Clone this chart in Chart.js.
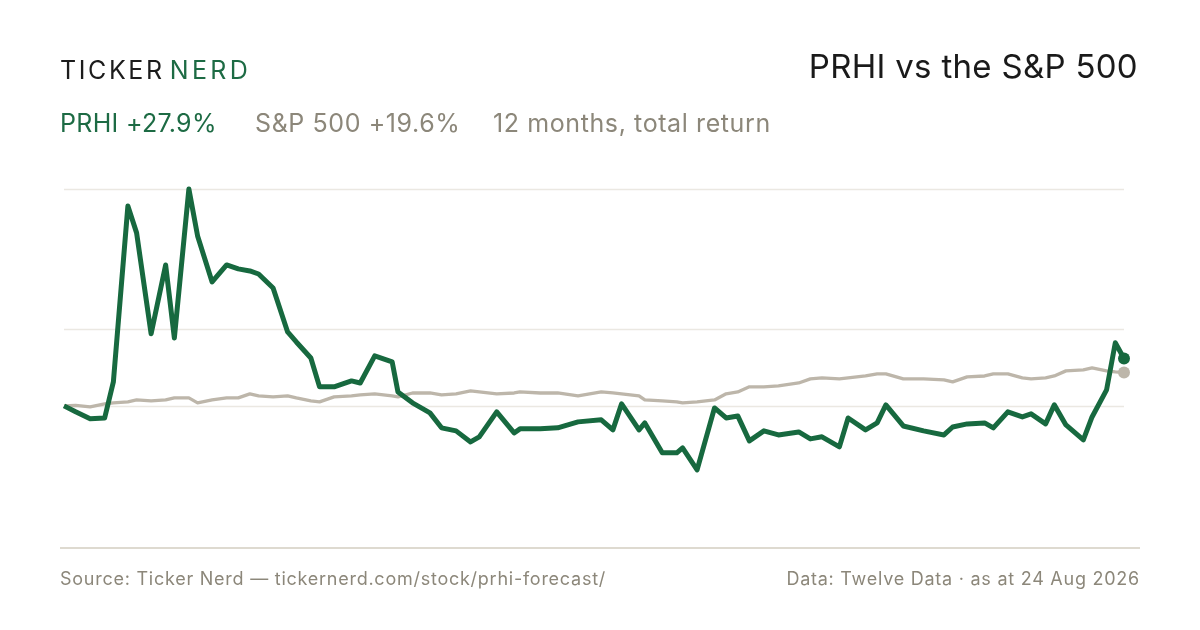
<!DOCTYPE html>
<html>
<head>
<meta charset="utf-8">
<script src="https://cdn.jsdelivr.net/npm/chart.js@4"></script>
<style>
  html, body { margin: 0; padding: 0; background: #fff; }
  #wrap { position: relative; width: 1200px; height: 630px; overflow: hidden; font-family: Inter, "Liberation Sans", sans-serif; }
  #chart { position: absolute; left: 0; top: 0; }
  .t { position: absolute; white-space: nowrap; }
  .logo { left: 60px; top: 55px; font-size: 25px; letter-spacing: 2.6px; color: #1c1c1c; }
  .logo span { color: #1d6b44; margin-left: 5px; letter-spacing: 3.4px; }
  .title { right: 62px; top: 46px; font-size: 33px; letter-spacing: 0.3px; color: #1a1a1a; }
  .sub { top: 108px; font-size: 25px; letter-spacing: 0.6px; color: #8c877a; }
  .green { color: #1d6b44; letter-spacing: 0.3px; }
  .foot { top: 568px; font-size: 18px; letter-spacing: 0.75px; color: #8c877a; }
</style>
</head>
<body>
<div id="wrap">
  <canvas id="chart" width="1200" height="630"></canvas>
  <div class="t logo">TICKER<span>NERD</span></div>
  <div class="t title">PRHI vs the S&amp;P 500</div>
  <div class="t sub green" style="left:60px">PRHI +27.9%</div>
  <div class="t sub" style="left:255px">S&amp;P 500 +19.6%</div>
  <div class="t sub" style="left:493px">12 months, total return</div>
  <div class="t foot" style="left:60px">Source: Ticker Nerd — tickernerd.com/stock/prhi-forecast/</div>
  <div class="t foot" style="right:60px">Data: Twelve Data · as at 24 Aug 2026</div>
</div>
<script>
// days since start of the 12 month window
const days = [0, 4, 9, 14, 17, 22, 25, 30, 35, 38,
  43, 46, 51, 56, 60, 64, 67, 72, 77, 80,
  85, 88, 93, 99, 102, 107, 113, 115, 120, 126,
  130, 135, 140, 143, 149, 155, 157, 164, 170, 177,
  185, 189, 192, 198, 200, 206, 211, 213, 218, 224,
  228, 232, 236, 241, 246, 253, 257, 261, 267, 270,
  276, 280, 283, 289, 296, 303, 306, 311, 317, 320,
  325, 330, 333, 338, 341, 345, 351, 354, 359, 362, 365];

// total return, %
const prhi = [0, -3.5, -7.6, -7.1, 14.1, 117.6, 101.8, 42.4, 82.9, 40.0,
  127.6, 100.0, 72.9, 82.9, 80.6, 79.4, 77.6, 69.4, 43.5, 37.6,
  28.2, 11.2, 11.2, 14.7, 13.5, 29.4, 25.9, 8.2, 1.8, -4.1,
  -12.9, -14.7, -21.2, -18.2, -3.5, -15.9, -13.5, -13.5, -12.9, -9.4,
  -8.2, -14.1, 1.2, -14.1, -10.0, -27.6, -27.6, -24.7, -37.6, -1.2,
  -7.1, -5.9, -20.6, -14.7, -17.1, -15.3, -19.4, -18.2, -24.1, -7.1,
  -14.1, -10.0, 0.6, -11.8, -14.7, -17.1, -12.4, -10.6, -10.0, -12.9,
  -3.5, -6.5, -4.7, -10.6, 0.6, -11.2, -20.0, -6.5, 9.4, 37.1, 27.9];

const spx = [0, 0.3, -0.6, 1.2, 1.8, 2.4, 3.5, 2.9, 3.5, 4.7,
  4.7, 1.8, 3.5, 4.7, 4.7, 7.1, 5.9, 5.3, 5.9, 4.7,
  2.9, 2.4, 5.3, 5.9, 6.5, 7.1, 5.9, 5.3, 7.6, 7.6,
  6.5, 7.1, 8.8, 8.2, 7.1, 7.6, 8.2, 7.6, 7.6, 5.9,
  8.2, 7.6, 7.1, 5.9, 3.5, 2.9, 2.4, 1.8, 2.4, 3.5,
  7.1, 8.2, 11.2, 11.2, 11.8, 13.5, 15.9, 16.5, 15.9, 16.5,
  17.6, 18.8, 18.8, 15.9, 15.9, 15.3, 14.1, 17.1, 17.6, 18.8,
  18.8, 16.5, 15.9, 16.5, 17.6, 20.6, 21.2, 22.4, 20.6, 20.0, 19.6];

const GREEN = '#17693f';
const GREY = '#bdb6aa';

const toPoints = (vals) => vals.map((v, i) => ({ x: days[i], y: v }));
const lastOnly = (r) => (ctx) => ctx.dataIndex === days.length - 1 ? r : 0;

// grid at the high, the midpoint of the range and zero
const guides = {
  id: 'guides',
  beforeDatasetsDraw(chart) {
    const { ctx, chartArea } = chart;
    const y = chart.scales.y;
    const hi = Math.max(...prhi);
    const lo = Math.min(...prhi);
    ctx.save();
    ctx.strokeStyle = '#ebe8e2';
    ctx.lineWidth = 1.5;
    [hi, (hi + lo) / 2, 0].forEach(v => {
      const py = Math.round(y.getPixelForValue(v)) + 0.5;
      ctx.beginPath();
      ctx.moveTo(chartArea.left, py);
      ctx.lineTo(chartArea.right, py);
      ctx.stroke();
    });
    ctx.strokeStyle = '#dedad0';
    ctx.lineWidth = 2;
    ctx.beginPath();
    ctx.moveTo(60, chartArea.bottom);
    ctx.lineTo(1140, chartArea.bottom);
    ctx.stroke();
    ctx.restore();
  }
};

new Chart(document.getElementById('chart'), {
  type: 'line',
  data: {
    datasets: [
      {
        label: 'PRHI',
        data: toPoints(prhi),
        borderColor: GREEN,
        backgroundColor: GREEN,
        borderWidth: 5,
        borderJoinStyle: 'round',
        pointRadius: lastOnly(6),
        pointBorderWidth: 0,
        tension: 0,
        clip: false,
        order: 0,
      },
      {
        label: 'S&P 500',
        data: toPoints(spx),
        borderColor: GREY,
        backgroundColor: GREY,
        borderWidth: 3.3,
        borderJoinStyle: 'round',
        pointRadius: lastOnly(6),
        pointBorderWidth: 0,
        tension: 0,
        clip: false,
        order: 1,
      },
    ],
  },
  options: {
    responsive: false,
    animation: false,
    layout: { padding: { left: 64, right: 76, top: 189, bottom: 82 } },
    plugins: { legend: { display: false }, tooltip: { enabled: false } },
    scales: {
      x: { type: 'linear', min: 0, max: 365, display: false },
      y: { min: -83.6, max: 127.6, display: false },
    },
  },
  plugins: [guides],
});
</script>
</body>
</html>
